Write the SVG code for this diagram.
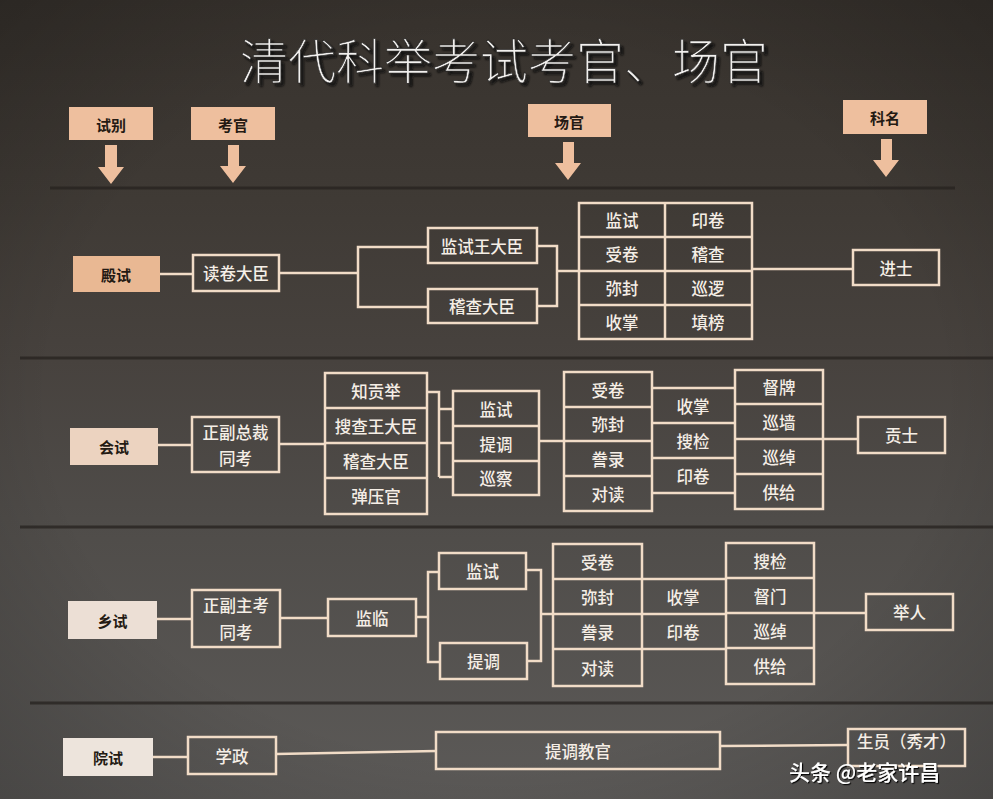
<svg xmlns="http://www.w3.org/2000/svg" width="993" height="799" viewBox="0 0 993 799">
<defs>
<linearGradient id="bg" x1="0" y1="0" x2="0" y2="1">
<stop offset="0" stop-color="#37322d"/>
<stop offset="0.25" stop-color="#3f3a35"/>
<stop offset="0.45" stop-color="#47423e"/>
<stop offset="0.65" stop-color="#4f4c49"/>
<stop offset="1" stop-color="#5c5a58"/>
</linearGradient>
<radialGradient id="vig" cx="0.5" cy="0.5" r="0.75">
<stop offset="0.6" stop-color="#000" stop-opacity="0"/>
<stop offset="1" stop-color="#000" stop-opacity="0.25"/>
</radialGradient>
<filter id="shadow" x="-10%" y="-30%" width="120%" height="160%">
<feDropShadow dx="3" dy="3" stdDeviation="0.8" flood-color="#0a0a0a" flood-opacity="0.95"/>
</filter>
<filter id="wshadow" x="-10%" y="-30%" width="120%" height="160%">
<feDropShadow dx="1.2" dy="1.2" stdDeviation="0.6" flood-color="#000" flood-opacity="0.9"/>
</filter>
</defs>
<style>
.t{font-family:"Noto Sans CJK SC","Noto Sans CJK TC",sans-serif;font-size:16.5px;fill:#f5eee6;text-anchor:middle;dominant-baseline:central;font-weight:500}
.box{fill:none;stroke:#f1dcc7;stroke-width:2.5}
.conn{fill:none;stroke:#f1dcc7;stroke-width:2.5}
.hdr{fill:#eebf9e}
.hl{font-family:"Noto Sans CJK SC",sans-serif;font-size:15px;fill:#241a13;text-anchor:middle;dominant-baseline:central;font-weight:700}
.sep{stroke:#26221f;stroke-width:3;opacity:0.75}
.arr{fill:#eebf9e}
</style>
<rect width="993" height="799" fill="url(#bg)"/>
<rect width="993" height="799" fill="url(#vig)"/>
<g id="separators">
<line class="sep" x1="50" y1="188" x2="955" y2="188"/>
<line class="sep" x1="20" y1="358" x2="993" y2="358"/>
<line class="sep" x1="20" y1="527" x2="993" y2="527"/>
<line class="sep" x1="30" y1="703" x2="993" y2="703"/>
</g>
<g id="title">
<text x="504" y="58" font-family="Noto Sans CJK SC,sans-serif" font-size="48" font-weight="300" fill="#f2f0ee" stroke="#222" stroke-width="0.6" text-anchor="middle" dominant-baseline="central" filter="url(#shadow)">清代科举考试考官、场官</text>
</g>
<g id="h-shibie">
<rect class="hdr" x="69" y="107" width="84" height="33"/>
<text class="hl" x="111" y="124">试别</text>
<polygon class="arr" points="105,145 117,145 117,167 124,167 111,184 98,167 105,167"/>
</g>
<g id="h-kaoguan">
<rect class="hdr" x="191" y="107" width="84" height="33"/>
<text class="hl" x="233" y="124">考官</text>
<polygon class="arr" points="228,145 239,145 239,166 246,166 233,183 220,166 228,166"/>
</g>
<g id="h-changguan">
<rect class="hdr" x="528" y="104" width="83" height="33"/>
<text class="hl" x="569" y="121">场官</text>
<polygon class="arr" points="563,142 574,142 574,163 581,163 568,180 555,163 563,163"/>
</g>
<g id="h-keming">
<rect class="hdr" x="843" y="100" width="84" height="34"/>
<text class="hl" x="885" y="117">科名</text>
<polygon class="arr" points="881,139 892,139 892,160 899,160 886,177 873,160 881,160"/>
</g>

<g id="connectors">
<line class="conn" x1="160" y1="274" x2="193" y2="274"/>
<polyline class="conn" points="279,273 358,273"/>
<polyline class="conn" points="428,247 358,247 358,307 428,307"/>
<polyline class="conn" points="537,246 557,246 557,306 537,306"/>
<line class="conn" x1="557" y1="271" x2="579" y2="271"/>
<line class="conn" x1="752" y1="269" x2="853" y2="269"/>
<line class="conn" x1="158" y1="445" x2="192" y2="445"/>
<line class="conn" x1="279" y1="444" x2="325" y2="444"/>
<polyline class="conn" points="427,392 439,392 439,477"/>
<line class="conn" x1="439" y1="409" x2="453" y2="409"/>
<line class="conn" x1="439" y1="443" x2="453" y2="443"/>
<line class="conn" x1="439" y1="477" x2="453" y2="477"/>
<line class="conn" x1="539" y1="441" x2="564" y2="441"/>
<line class="conn" x1="652" y1="388" x2="735" y2="388"/>
<line class="conn" x1="652" y1="423" x2="735" y2="423"/>
<line class="conn" x1="652" y1="458" x2="735" y2="458"/>
<line class="conn" x1="652" y1="493" x2="735" y2="493"/>
<line class="conn" x1="823" y1="439" x2="858" y2="439"/>
<line class="conn" x1="157" y1="619" x2="192" y2="619"/>
<line class="conn" x1="280" y1="618" x2="328" y2="618"/>
<line class="conn" x1="416" y1="617" x2="428" y2="617"/>
<polyline class="conn" points="439,572 428,572 428,662 440,662"/>
<polyline class="conn" points="526,570 541,570 541,661 527,661"/>
<line class="conn" x1="541" y1="614" x2="553" y2="614"/>
<line class="conn" x1="642" y1="579" x2="726" y2="579"/>
<line class="conn" x1="642" y1="614" x2="726" y2="614"/>
<line class="conn" x1="642" y1="649" x2="726" y2="649"/>
<line class="conn" x1="814" y1="613" x2="866" y2="613"/>
<line class="conn" x1="153" y1="757" x2="188" y2="757"/>
<line class="conn" x1="276" y1="754" x2="436" y2="751"/>
<line class="conn" x1="720" y1="746" x2="848" y2="745"/>
</g>

<g id="dianshi">
<rect x="73" y="256" width="87" height="36" fill="#e9b893"/>
<text class="hl" x="116" y="274" font-size="16">殿试</text>
</g>
<g id="dujuan">
<rect class="box" x="193" y="255" width="86" height="36"/>
<text class="t" x="236" y="273">读卷大臣</text>
</g>
<g id="jianshiwang1">
<rect class="box" x="428" y="228" width="109" height="35"/>
<text class="t" x="482" y="245.5">监试王大臣</text>
</g>
<g id="jicha1">
<rect class="box" x="428" y="289" width="109" height="34"/>
<text class="t" x="482" y="306">稽查大臣</text>
</g>
<g id="grid1">
<rect class="box" x="579" y="203" width="173" height="136"/>
<line class="box" x1="665" y1="203" x2="665" y2="339"/>
<line class="box" x1="579" y1="237" x2="752" y2="237"/>
<line class="box" x1="579" y1="271" x2="752" y2="271"/>
<line class="box" x1="579" y1="305" x2="752" y2="305"/>
<text class="t" x="622" y="220">监试</text>
<text class="t" x="708" y="220">印卷</text>
<text class="t" x="622" y="254">受卷</text>
<text class="t" x="708" y="254">稽查</text>
<text class="t" x="622" y="288">弥封</text>
<text class="t" x="708" y="288">巡逻</text>
<text class="t" x="622" y="322">收掌</text>
<text class="t" x="708" y="322">填榜</text>
</g>
<g id="jinshi">
<rect class="box" x="853" y="250" width="86" height="35"/>
<text class="t" x="896" y="267.5">进士</text>
</g>

<g id="huishi">
<rect x="70" y="428" width="88" height="37" fill="#ecd3c0"/>
<text class="hl" x="114" y="446.5" font-size="16">会试</text>
</g>
<g id="zongcai">
<rect class="box" x="192" y="417" width="87" height="55"/>
<text class="t" x="235.5" y="432">正副总裁</text>
<text class="t" x="235.5" y="458">同考</text>
</g>
<g id="stack2a">
<rect class="box" x="325" y="373" width="102" height="141"/>
<line class="box" x1="325" y1="408" x2="427" y2="408"/>
<line class="box" x1="325" y1="443" x2="427" y2="443"/>
<line class="box" x1="325" y1="478" x2="427" y2="478"/>
<text class="t" x="376" y="390.5">知贡举</text>
<text class="t" x="376" y="425.5">搜查王大臣</text>
<text class="t" x="376" y="460.5">稽查大臣</text>
<text class="t" x="376" y="496">弹压官</text>
</g>
<g id="stack2b">
<rect class="box" x="453" y="391" width="86" height="104"/>
<line class="box" x1="453" y1="426" x2="539" y2="426"/>
<line class="box" x1="453" y1="461" x2="539" y2="461"/>
<text class="t" x="496" y="408.5">监试</text>
<text class="t" x="496" y="443.5">提调</text>
<text class="t" x="496" y="478">巡察</text>
</g>
<g id="stack2c">
<rect class="box" x="564" y="372" width="88" height="139"/>
<line class="box" x1="564" y1="407" x2="652" y2="407"/>
<line class="box" x1="564" y1="441" x2="652" y2="441"/>
<line class="box" x1="564" y1="476" x2="652" y2="476"/>
<text class="t" x="608" y="389.5">受卷</text>
<text class="t" x="608" y="424">弥封</text>
<text class="t" x="608" y="458.5">誊录</text>
<text class="t" x="608" y="493.5">对读</text>
</g>
<g id="stack2d">
<text class="t" x="693" y="405.5">收掌</text>
<text class="t" x="693" y="440.5">搜检</text>
<text class="t" x="693" y="475.5">印卷</text>
</g>
<g id="stack2e">
<rect class="box" x="735" y="370" width="88" height="139"/>
<line class="box" x1="735" y1="404" x2="823" y2="404"/>
<line class="box" x1="735" y1="439" x2="823" y2="439"/>
<line class="box" x1="735" y1="474" x2="823" y2="474"/>
<text class="t" x="779" y="387">督牌</text>
<text class="t" x="779" y="421.5">巡墙</text>
<text class="t" x="779" y="456.5">巡绰</text>
<text class="t" x="779" y="491.5">供给</text>
</g>
<g id="gongshi">
<rect class="box" x="858" y="417" width="87" height="36"/>
<text class="t" x="901.5" y="435">贡士</text>
</g>

<g id="xiangshi">
<rect x="68" y="601" width="89" height="38" fill="#ecdfd5"/>
<text class="hl" x="112.5" y="620" font-size="16">乡试</text>
</g>
<g id="zhukao">
<rect class="box" x="192" y="590" width="88" height="57"/>
<text class="t" x="236" y="605">正副主考</text>
<text class="t" x="236" y="632">同考</text>
</g>
<g id="jianlin">
<rect class="box" x="328" y="599" width="88" height="37"/>
<text class="t" x="372" y="617.5">监临</text>
</g>
<g id="jianshi3">
<rect class="box" x="439" y="553" width="87" height="36"/>
<text class="t" x="482.5" y="571">监试</text>
</g>
<g id="tidiao3">
<rect class="box" x="440" y="643" width="87" height="36"/>
<text class="t" x="483.5" y="661">提调</text>
</g>
<g id="stack3a">
<rect class="box" x="553" y="544" width="89" height="142"/>
<line class="box" x1="553" y1="579" x2="642" y2="579"/>
<line class="box" x1="553" y1="614" x2="642" y2="614"/>
<line class="box" x1="553" y1="649" x2="642" y2="649"/>
<text class="t" x="597.5" y="561.5">受卷</text>
<text class="t" x="597.5" y="596.5">弥封</text>
<text class="t" x="597.5" y="631.5">誊录</text>
<text class="t" x="597.5" y="667.5">对读</text>
</g>
<g id="stack3b">
<text class="t" x="683" y="597">收掌</text>
<text class="t" x="683" y="632">印卷</text>
</g>
<g id="stack3c">
<rect class="box" x="726" y="543" width="88" height="141"/>
<line class="box" x1="726" y1="578" x2="814" y2="578"/>
<line class="box" x1="726" y1="613" x2="814" y2="613"/>
<line class="box" x1="726" y1="648" x2="814" y2="648"/>
<text class="t" x="770" y="560.5">搜检</text>
<text class="t" x="770" y="595.5">督门</text>
<text class="t" x="770" y="630.5">巡绰</text>
<text class="t" x="770" y="666">供给</text>
</g>
<g id="juren">
<rect class="box" x="866" y="594" width="87" height="36"/>
<text class="t" x="909.5" y="612">举人</text>
</g>

<g id="yuanshi">
<rect x="63" y="738" width="90" height="38" fill="#ede4dc"/>
<text class="hl" x="108" y="757" font-size="16">院试</text>
</g>
<g id="xuezheng">
<rect class="box" x="188" y="737" width="88" height="37"/>
<text class="t" x="232" y="755.5">学政</text>
</g>
<g id="tidiaojiaoguan">
<rect class="box" x="436" y="732" width="284" height="37"/>
<text class="t" x="578" y="750.5">提调教官</text>
</g>
<g id="shengyuan">
<rect class="box" x="848" y="729" width="117" height="37"/>
<text class="t" x="906.5" y="740.5" font-size="14">生员（秀才）</text>
</g>
<g id="watermark">
<text x="789" y="771" font-family="Noto Sans CJK SC,sans-serif" font-size="21" font-weight="500" fill="#ffffff" dominant-baseline="central" filter="url(#wshadow)">头条 @老家许昌</text>
</g>
</svg>
